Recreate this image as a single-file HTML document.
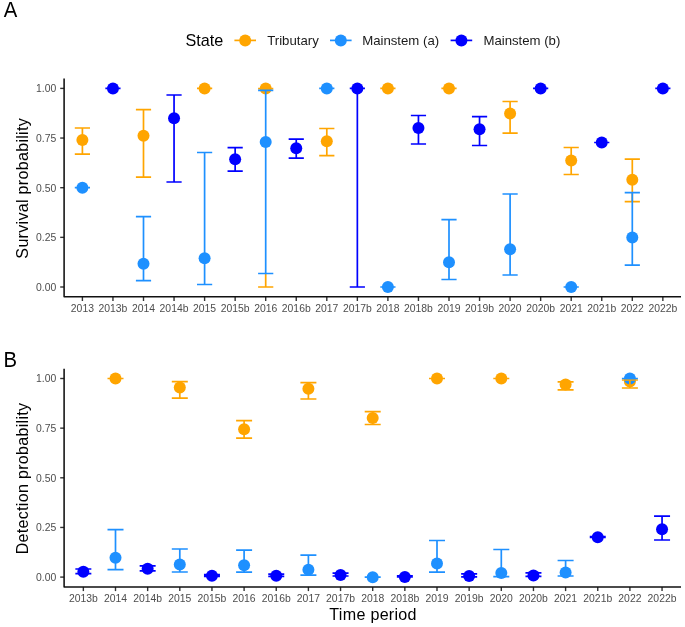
<!DOCTYPE html>
<html><head><meta charset="utf-8"><style>
html,body{margin:0;padding:0;background:#fff;width:685px;height:627px;overflow:hidden}
svg{display:block;will-change:transform}
text{font-family:"Liberation Sans",sans-serif}
.tk{font-size:10.4px;fill:#4d4d4d}
.tag{font-size:21.4px;fill:#000}
.lt{font-size:16.2px;fill:#000}
.lg{font-size:13.2px;fill:#1a1a1a}
.at{font-size:16.1px;letter-spacing:0.28px;fill:#000}
</style></head><body>
<svg width="685" height="627" viewBox="0 0 685 627">
<rect width="685" height="627" fill="#fff"/>
<text transform="translate(3.7 16.5) scale(0.95 1)" class="tag">A</text>
<text transform="translate(3.6 366.6) scale(0.95 1)" class="tag">B</text>
<text x="185.4" y="45.8" class="lt">State</text>
<g stroke-width="1.7">
<path d="M234.4 40.4H256" stroke="#FFA500"/><circle cx="245.2" cy="40.4" r="6.0" fill="#FFA500"/>
<path d="M330 40.4H351.6" stroke="#1E90FF"/><circle cx="340.8" cy="40.4" r="6.0" fill="#1E90FF"/>
<path d="M450.6 40.4H472.2" stroke="#0000FF"/><circle cx="461.4" cy="40.4" r="6.0" fill="#0000FF"/>
</g>
<text x="267.2" y="45.2" class="lg">Tributary</text>
<text x="362.2" y="45.2" class="lg">Mainstem (a)</text>
<text x="483.4" y="45.2" class="lg">Mainstem (b)</text>
<path d="M60.2 88.4H64.1" stroke="#333" stroke-width="1.4"/>
<text x="56.3" y="92.2" text-anchor="end" class="tk">1.00</text>
<path d="M60.2 138.05H64.1" stroke="#333" stroke-width="1.4"/>
<text x="56.3" y="141.85" text-anchor="end" class="tk">0.75</text>
<path d="M60.2 187.7H64.1" stroke="#333" stroke-width="1.4"/>
<text x="56.3" y="191.5" text-anchor="end" class="tk">0.50</text>
<path d="M60.2 237.35H64.1" stroke="#333" stroke-width="1.4"/>
<text x="56.3" y="241.15" text-anchor="end" class="tk">0.25</text>
<path d="M60.2 287H64.1" stroke="#333" stroke-width="1.4"/>
<text x="56.3" y="290.8" text-anchor="end" class="tk">0.00</text>
<path d="M82.4 296.8V301" stroke="#333" stroke-width="1.4"/>
<text x="82.4" y="311.8" text-anchor="middle" class="tk">2013</text>
<path d="M112.95 296.8V301" stroke="#333" stroke-width="1.4"/>
<text x="112.95" y="311.8" text-anchor="middle" class="tk">2013b</text>
<path d="M143.5 296.8V301" stroke="#333" stroke-width="1.4"/>
<text x="143.5" y="311.8" text-anchor="middle" class="tk">2014</text>
<path d="M174.05 296.8V301" stroke="#333" stroke-width="1.4"/>
<text x="174.05" y="311.8" text-anchor="middle" class="tk">2014b</text>
<path d="M204.6 296.8V301" stroke="#333" stroke-width="1.4"/>
<text x="204.6" y="311.8" text-anchor="middle" class="tk">2015</text>
<path d="M235.15 296.8V301" stroke="#333" stroke-width="1.4"/>
<text x="235.15" y="311.8" text-anchor="middle" class="tk">2015b</text>
<path d="M265.7 296.8V301" stroke="#333" stroke-width="1.4"/>
<text x="265.7" y="311.8" text-anchor="middle" class="tk">2016</text>
<path d="M296.25 296.8V301" stroke="#333" stroke-width="1.4"/>
<text x="296.25" y="311.8" text-anchor="middle" class="tk">2016b</text>
<path d="M326.8 296.8V301" stroke="#333" stroke-width="1.4"/>
<text x="326.8" y="311.8" text-anchor="middle" class="tk">2017</text>
<path d="M357.35 296.8V301" stroke="#333" stroke-width="1.4"/>
<text x="357.35" y="311.8" text-anchor="middle" class="tk">2017b</text>
<path d="M387.9 296.8V301" stroke="#333" stroke-width="1.4"/>
<text x="387.9" y="311.8" text-anchor="middle" class="tk">2018</text>
<path d="M418.45 296.8V301" stroke="#333" stroke-width="1.4"/>
<text x="418.45" y="311.8" text-anchor="middle" class="tk">2018b</text>
<path d="M449 296.8V301" stroke="#333" stroke-width="1.4"/>
<text x="449" y="311.8" text-anchor="middle" class="tk">2019</text>
<path d="M479.55 296.8V301" stroke="#333" stroke-width="1.4"/>
<text x="479.55" y="311.8" text-anchor="middle" class="tk">2019b</text>
<path d="M510.1 296.8V301" stroke="#333" stroke-width="1.4"/>
<text x="510.1" y="311.8" text-anchor="middle" class="tk">2020</text>
<path d="M540.65 296.8V301" stroke="#333" stroke-width="1.4"/>
<text x="540.65" y="311.8" text-anchor="middle" class="tk">2020b</text>
<path d="M571.2 296.8V301" stroke="#333" stroke-width="1.4"/>
<text x="571.2" y="311.8" text-anchor="middle" class="tk">2021</text>
<path d="M601.75 296.8V301" stroke="#333" stroke-width="1.4"/>
<text x="601.75" y="311.8" text-anchor="middle" class="tk">2021b</text>
<path d="M632.3 296.8V301" stroke="#333" stroke-width="1.4"/>
<text x="632.3" y="311.8" text-anchor="middle" class="tk">2022</text>
<path d="M662.85 296.8V301" stroke="#333" stroke-width="1.4"/>
<text x="662.85" y="311.8" text-anchor="middle" class="tk">2022b</text>
<path d="M64.1 78.6V296.8H681" fill="none" stroke="#111" stroke-width="1.55" stroke-linejoin="round"/>
<circle cx="82.4" cy="139.9" r="6.0" fill="#FFA500"/>
<circle cx="143.5" cy="135.7" r="6.0" fill="#FFA500"/>
<circle cx="204.6" cy="88.4" r="6.0" fill="#FFA500"/>
<circle cx="265.7" cy="88.4" r="6.0" fill="#FFA500"/>
<circle cx="326.8" cy="141.2" r="6.0" fill="#FFA500"/>
<circle cx="387.9" cy="88.4" r="6.0" fill="#FFA500"/>
<circle cx="449" cy="88.4" r="6.0" fill="#FFA500"/>
<circle cx="510.1" cy="113.5" r="6.0" fill="#FFA500"/>
<circle cx="571.2" cy="160.5" r="6.0" fill="#FFA500"/>
<circle cx="632.3" cy="179.8" r="6.0" fill="#FFA500"/>
<circle cx="82.4" cy="187.7" r="6.0" fill="#1E90FF"/>
<circle cx="143.5" cy="263.7" r="6.0" fill="#1E90FF"/>
<circle cx="204.6" cy="258.2" r="6.0" fill="#1E90FF"/>
<circle cx="265.7" cy="142" r="6.0" fill="#1E90FF"/>
<circle cx="326.8" cy="88.4" r="6.0" fill="#1E90FF"/>
<circle cx="387.9" cy="287" r="6.0" fill="#1E90FF"/>
<circle cx="449" cy="262.2" r="6.0" fill="#1E90FF"/>
<circle cx="510.1" cy="249.2" r="6.0" fill="#1E90FF"/>
<circle cx="571.2" cy="287" r="6.0" fill="#1E90FF"/>
<circle cx="632.3" cy="237.5" r="6.0" fill="#1E90FF"/>
<circle cx="112.95" cy="88.4" r="6.0" fill="#0000FF"/>
<circle cx="174.05" cy="118.2" r="6.0" fill="#0000FF"/>
<circle cx="235.15" cy="159.2" r="6.0" fill="#0000FF"/>
<circle cx="296.25" cy="148.2" r="6.0" fill="#0000FF"/>
<circle cx="357.35" cy="88.4" r="6.0" fill="#0000FF"/>
<circle cx="418.45" cy="128" r="6.0" fill="#0000FF"/>
<circle cx="479.55" cy="129.2" r="6.0" fill="#0000FF"/>
<circle cx="540.65" cy="88.4" r="6.0" fill="#0000FF"/>
<circle cx="601.75" cy="142.5" r="6.0" fill="#0000FF"/>
<circle cx="662.85" cy="88.4" r="6.0" fill="#0000FF"/>
<g fill="none" stroke-width="1.7">
<path d="M74.8 128H90M82.4 128V154.1M74.8 154.1H90" stroke="#FFA500"/>
<path d="M135.9 109.7H151.1M143.5 109.7V177.2M135.9 177.2H151.1" stroke="#FFA500"/>
<path d="M197 88.4H212.2M204.6 88.4V88.4M197 88.4H212.2" stroke="#FFA500"/>
<path d="M258.1 88.6H273.3M265.7 273.5V287M258.1 287H273.3" stroke="#FFA500"/>
<path d="M319.2 128.5H334.4M326.8 128.5V155.7M319.2 155.7H334.4" stroke="#FFA500"/>
<path d="M380.3 88.4H395.5M387.9 88.4V88.4M380.3 88.4H395.5" stroke="#FFA500"/>
<path d="M441.4 88.4H456.6M449 88.4V88.4M441.4 88.4H456.6" stroke="#FFA500"/>
<path d="M502.5 101.5H517.7M510.1 101.5V133.2M502.5 133.2H517.7" stroke="#FFA500"/>
<path d="M563.6 147.5H578.8M571.2 147.5V174.5M563.6 174.5H578.8" stroke="#FFA500"/>
<path d="M624.7 159.1H639.9M632.3 159.1V201.7M624.7 201.7H639.9" stroke="#FFA500"/>
<path d="M74.8 187.7H90M82.4 187.7V187.7M74.8 187.7H90" stroke="#1E90FF"/>
<path d="M135.9 216.7H151.1M143.5 216.7V280.7M135.9 280.7H151.1" stroke="#1E90FF"/>
<path d="M197 152.5H212.2M204.6 152.5V284.5M197 284.5H212.2" stroke="#1E90FF"/>
<path d="M258.1 90.3H273.3M265.7 90.3V273.5M258.1 273.5H273.3" stroke="#1E90FF"/>
<path d="M319.2 88.4H334.4M326.8 88.4V88.4M319.2 88.4H334.4" stroke="#1E90FF"/>
<path d="M380.3 287H395.5M387.9 287V287M380.3 287H395.5" stroke="#1E90FF"/>
<path d="M441.4 219.7H456.6M449 219.7V279.5M441.4 279.5H456.6" stroke="#1E90FF"/>
<path d="M502.5 194H517.7M510.1 194V275M502.5 275H517.7" stroke="#1E90FF"/>
<path d="M563.6 287H578.8M571.2 287V287M563.6 287H578.8" stroke="#1E90FF"/>
<path d="M624.7 192.7H639.9M632.3 192.7V265.2M624.7 265.2H639.9" stroke="#1E90FF"/>
<path d="M105.35 88.4H120.55M112.95 88.4V88.4M105.35 88.4H120.55" stroke="#0000FF"/>
<path d="M166.45 95H181.65M174.05 95V182M166.45 182H181.65" stroke="#0000FF"/>
<path d="M227.55 147.7H242.75M235.15 147.7V171.2M227.55 171.2H242.75" stroke="#0000FF"/>
<path d="M288.65 139.2H303.85M296.25 139.2V158.2M288.65 158.2H303.85" stroke="#0000FF"/>
<path d="M349.75 88.4H364.95M357.35 88.4V287M349.75 287H364.95" stroke="#0000FF"/>
<path d="M410.85 115.5H426.05M418.45 115.5V144M410.85 144H426.05" stroke="#0000FF"/>
<path d="M471.95 116.7H487.15M479.55 116.7V145.5M471.95 145.5H487.15" stroke="#0000FF"/>
<path d="M533.05 88.4H548.25M540.65 88.4V88.4M533.05 88.4H548.25" stroke="#0000FF"/>
<path d="M594.15 142.5H609.35M601.75 142.5V142.5M594.15 142.5H609.35" stroke="#0000FF"/>
<path d="M655.25 88.4H670.45M662.85 88.4V88.4M655.25 88.4H670.45" stroke="#0000FF"/>
</g>
<path d="M60.2 378.5H64.1" stroke="#333" stroke-width="1.4"/>
<text x="56.3" y="382.3" text-anchor="end" class="tk">1.00</text>
<path d="M60.2 428.15H64.1" stroke="#333" stroke-width="1.4"/>
<text x="56.3" y="431.95" text-anchor="end" class="tk">0.75</text>
<path d="M60.2 477.8H64.1" stroke="#333" stroke-width="1.4"/>
<text x="56.3" y="481.6" text-anchor="end" class="tk">0.50</text>
<path d="M60.2 527.45H64.1" stroke="#333" stroke-width="1.4"/>
<text x="56.3" y="531.25" text-anchor="end" class="tk">0.25</text>
<path d="M60.2 577.1H64.1" stroke="#333" stroke-width="1.4"/>
<text x="56.3" y="580.9" text-anchor="end" class="tk">0.00</text>
<path d="M83.35 586.9V591.1" stroke="#333" stroke-width="1.4"/>
<text x="83.35" y="602.2" text-anchor="middle" class="tk">2013b</text>
<path d="M115.5 586.9V591.1" stroke="#333" stroke-width="1.4"/>
<text x="115.5" y="602.2" text-anchor="middle" class="tk">2014</text>
<path d="M147.65 586.9V591.1" stroke="#333" stroke-width="1.4"/>
<text x="147.65" y="602.2" text-anchor="middle" class="tk">2014b</text>
<path d="M179.8 586.9V591.1" stroke="#333" stroke-width="1.4"/>
<text x="179.8" y="602.2" text-anchor="middle" class="tk">2015</text>
<path d="M211.95 586.9V591.1" stroke="#333" stroke-width="1.4"/>
<text x="211.95" y="602.2" text-anchor="middle" class="tk">2015b</text>
<path d="M244.1 586.9V591.1" stroke="#333" stroke-width="1.4"/>
<text x="244.1" y="602.2" text-anchor="middle" class="tk">2016</text>
<path d="M276.25 586.9V591.1" stroke="#333" stroke-width="1.4"/>
<text x="276.25" y="602.2" text-anchor="middle" class="tk">2016b</text>
<path d="M308.4 586.9V591.1" stroke="#333" stroke-width="1.4"/>
<text x="308.4" y="602.2" text-anchor="middle" class="tk">2017</text>
<path d="M340.55 586.9V591.1" stroke="#333" stroke-width="1.4"/>
<text x="340.55" y="602.2" text-anchor="middle" class="tk">2017b</text>
<path d="M372.7 586.9V591.1" stroke="#333" stroke-width="1.4"/>
<text x="372.7" y="602.2" text-anchor="middle" class="tk">2018</text>
<path d="M404.85 586.9V591.1" stroke="#333" stroke-width="1.4"/>
<text x="404.85" y="602.2" text-anchor="middle" class="tk">2018b</text>
<path d="M437 586.9V591.1" stroke="#333" stroke-width="1.4"/>
<text x="437" y="602.2" text-anchor="middle" class="tk">2019</text>
<path d="M469.15 586.9V591.1" stroke="#333" stroke-width="1.4"/>
<text x="469.15" y="602.2" text-anchor="middle" class="tk">2019b</text>
<path d="M501.3 586.9V591.1" stroke="#333" stroke-width="1.4"/>
<text x="501.3" y="602.2" text-anchor="middle" class="tk">2020</text>
<path d="M533.45 586.9V591.1" stroke="#333" stroke-width="1.4"/>
<text x="533.45" y="602.2" text-anchor="middle" class="tk">2020b</text>
<path d="M565.6 586.9V591.1" stroke="#333" stroke-width="1.4"/>
<text x="565.6" y="602.2" text-anchor="middle" class="tk">2021</text>
<path d="M597.75 586.9V591.1" stroke="#333" stroke-width="1.4"/>
<text x="597.75" y="602.2" text-anchor="middle" class="tk">2021b</text>
<path d="M629.9 586.9V591.1" stroke="#333" stroke-width="1.4"/>
<text x="629.9" y="602.2" text-anchor="middle" class="tk">2022</text>
<path d="M662.05 586.9V591.1" stroke="#333" stroke-width="1.4"/>
<text x="662.05" y="602.2" text-anchor="middle" class="tk">2022b</text>
<path d="M64.1 368.8V586.9H681" fill="none" stroke="#111" stroke-width="1.55" stroke-linejoin="round"/>
<circle cx="115.5" cy="378.5" r="6.0" fill="#FFA500"/>
<circle cx="179.8" cy="387.5" r="6.0" fill="#FFA500"/>
<circle cx="244.1" cy="429.2" r="6.0" fill="#FFA500"/>
<circle cx="308.4" cy="388.7" r="6.0" fill="#FFA500"/>
<circle cx="372.7" cy="418" r="6.0" fill="#FFA500"/>
<circle cx="437" cy="378.5" r="6.0" fill="#FFA500"/>
<circle cx="501.3" cy="378.5" r="6.0" fill="#FFA500"/>
<circle cx="565.6" cy="384.6" r="6.0" fill="#FFA500"/>
<circle cx="629.9" cy="381.5" r="6.0" fill="#FFA500"/>
<circle cx="115.5" cy="557.7" r="6.0" fill="#1E90FF"/>
<circle cx="179.8" cy="564.5" r="6.0" fill="#1E90FF"/>
<circle cx="244.1" cy="565.2" r="6.0" fill="#1E90FF"/>
<circle cx="308.4" cy="569.7" r="6.0" fill="#1E90FF"/>
<circle cx="372.7" cy="577.2" r="6.0" fill="#1E90FF"/>
<circle cx="437" cy="563.5" r="6.0" fill="#1E90FF"/>
<circle cx="501.3" cy="573" r="6.0" fill="#1E90FF"/>
<circle cx="565.6" cy="572.5" r="6.0" fill="#1E90FF"/>
<circle cx="629.9" cy="378.5" r="6.0" fill="#1E90FF"/>
<circle cx="83.35" cy="571.8" r="6.0" fill="#0000FF"/>
<circle cx="147.65" cy="568.8" r="6.0" fill="#0000FF"/>
<circle cx="211.95" cy="575.8" r="6.0" fill="#0000FF"/>
<circle cx="276.25" cy="575.7" r="6.0" fill="#0000FF"/>
<circle cx="340.55" cy="575" r="6.0" fill="#0000FF"/>
<circle cx="404.85" cy="576.9" r="6.0" fill="#0000FF"/>
<circle cx="469.15" cy="576" r="6.0" fill="#0000FF"/>
<circle cx="533.45" cy="575.5" r="6.0" fill="#0000FF"/>
<circle cx="597.75" cy="537.2" r="6.0" fill="#0000FF"/>
<circle cx="662.05" cy="529.2" r="6.0" fill="#0000FF"/>
<g fill="none" stroke-width="1.7">
<path d="M107.5 378.5H123.5M115.5 378.5V378.5M107.5 378.5H123.5" stroke="#FFA500"/>
<path d="M171.8 381.7H187.8M179.8 381.7V398.2M171.8 398.2H187.8" stroke="#FFA500"/>
<path d="M236.1 420.7H252.1M244.1 420.7V438.2M236.1 438.2H252.1" stroke="#FFA500"/>
<path d="M300.4 382.7H316.4M308.4 382.7V399M300.4 399H316.4" stroke="#FFA500"/>
<path d="M364.7 411.7H380.7M372.7 411.7V424.5M364.7 424.5H380.7" stroke="#FFA500"/>
<path d="M429 378.5H445M437 378.5V378.5M429 378.5H445" stroke="#FFA500"/>
<path d="M493.3 378.5H509.3M501.3 378.5V378.5M493.3 378.5H509.3" stroke="#FFA500"/>
<path d="M557.6 381.9H573.6M565.6 381.9V389.9M557.6 389.9H573.6" stroke="#FFA500"/>
<path d="M621.9 380H637.9M629.9 380V388M621.9 388H637.9" stroke="#FFA500"/>
<path d="M107.5 529.7H123.5M115.5 529.7V569.7M107.5 569.7H123.5" stroke="#1E90FF"/>
<path d="M171.8 549H187.8M179.8 549V572M171.8 572H187.8" stroke="#1E90FF"/>
<path d="M236.1 550.2H252.1M244.1 550.2V572.2M236.1 572.2H252.1" stroke="#1E90FF"/>
<path d="M300.4 555.2H316.4M308.4 555.2V575.2M300.4 575.2H316.4" stroke="#1E90FF"/>
<path d="M364.7 577.2H380.7M372.7 577.2V577.2M364.7 577.2H380.7" stroke="#1E90FF"/>
<path d="M429 540.5H445M437 540.5V572.2M429 572.2H445" stroke="#1E90FF"/>
<path d="M493.3 549.5H509.3M501.3 549.5V576.7M493.3 576.7H509.3" stroke="#1E90FF"/>
<path d="M557.6 560.5H573.6M565.6 560.5V576M557.6 576H573.6" stroke="#1E90FF"/>
<path d="M621.9 378.5H637.9M629.9 378.5V378.5M621.9 378.5H637.9" stroke="#1E90FF"/>
<path d="M75.35 569H91.35M83.35 569V573.7M75.35 573.7H91.35" stroke="#0000FF"/>
<path d="M139.65 565.9H155.65M147.65 565.9V570.9M139.65 570.9H155.65" stroke="#0000FF"/>
<path d="M203.95 574.6H219.95M211.95 574.6V576.4M203.95 576.4H219.95" stroke="#0000FF"/>
<path d="M268.25 574.2H284.25M276.25 574.2V576.4M268.25 576.4H284.25" stroke="#0000FF"/>
<path d="M332.55 573.1H348.55M340.55 573.1V576M332.55 576H348.55" stroke="#0000FF"/>
<path d="M396.85 575.8H412.85M404.85 575.8V577M396.85 577H412.85" stroke="#0000FF"/>
<path d="M461.15 573.9H477.15M469.15 573.9V576.8M461.15 576.8H477.15" stroke="#0000FF"/>
<path d="M525.45 572.8H541.45M533.45 572.8V576.4M525.45 576.4H541.45" stroke="#0000FF"/>
<path d="M589.75 536.7H605.75M597.75 536.7V537.3M589.75 537.3H605.75" stroke="#0000FF"/>
<path d="M654.05 516.2H670.05M662.05 516.2V540M654.05 540H670.05" stroke="#0000FF"/>
</g>
<text transform="translate(28.4 188.3) rotate(-90)" text-anchor="middle" class="at">Survival probability</text>
<text transform="translate(28.4 478.5) rotate(-90)" text-anchor="middle" class="at">Detection probability</text>
<text x="373.1" y="619.7" text-anchor="middle" class="at">Time period</text>
</svg>
</body></html>
